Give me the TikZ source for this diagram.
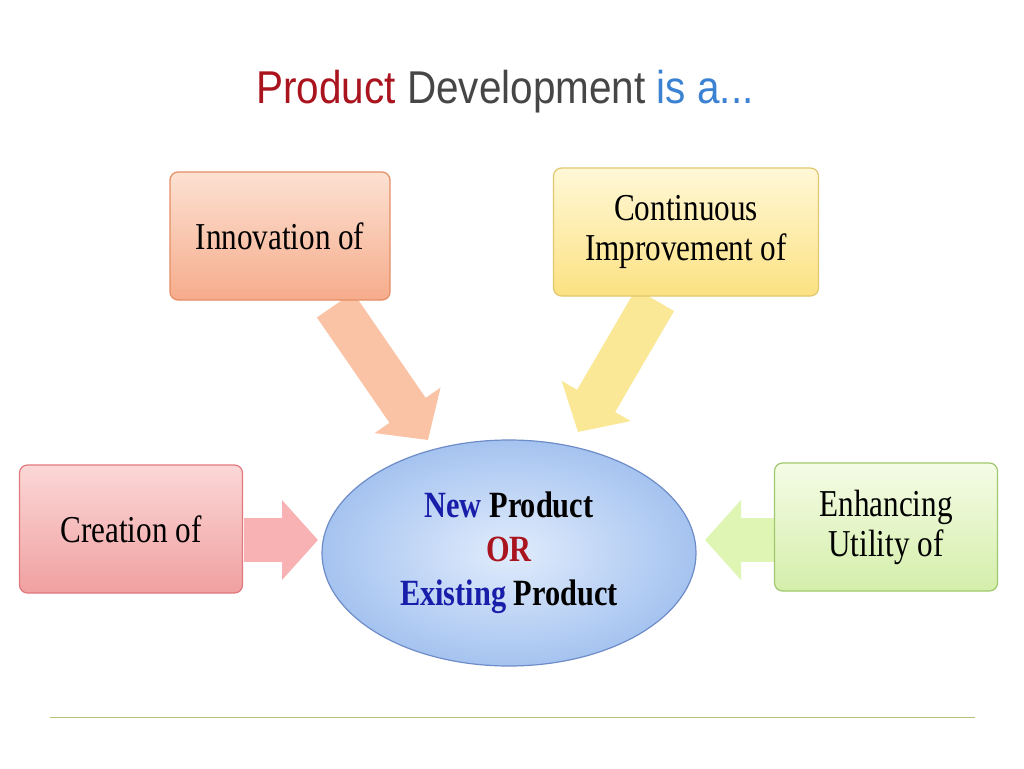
\documentclass[tikz,border=0pt]{standalone}
\usepackage{fontspec}
\setmainfont{Liberation Serif}[FakeStretch=0.82]
\newfontfamily\titlefont{Liberation Sans}[FakeStretch=0.88]
\usetikzlibrary{arrows.meta,calc,shapes.geometric}
\definecolor{tred}{RGB}{170,20,30}
\definecolor{tgray}{RGB}{70,70,70}
\definecolor{tblue}{RGB}{60,130,210}
\definecolor{eblue}{RGB}{25,30,170}
\tikzset{
  box/.style={rounded corners=8pt, minimum width=220pt, minimum height=128pt, align=center, font=\fontsize{38}{38}\selectfont, line width=1.2pt},
  barrow/.style={line width=44pt, -{Triangle[length=36pt,width=78pt]}, shorten >=0pt}
}
\begin{document}
\begin{tikzpicture}[x=1pt,y=-1pt]
\useasboundingbox (0,0) rectangle (1024,768);
\fill[white] (0,0) rectangle (1024,768);
\node[font=\titlefont\fontsize{46}{48}\selectfont] (title) at (505,92) {\textcolor{tred}{Product} \textcolor{tgray}{Development} \textcolor{tblue}{is a...}};
% arrows
\coordinate (a1s) at (335,305); \coordinate (a1e) at (428,440);
\coordinate (a2s) at (655,300); \coordinate (a2e) at (578,432);
\coordinate (a3s) at (244,540); \coordinate (a3e) at (318,540);
\coordinate (a4s) at (776,540); \coordinate (a4e) at (705,540);
\draw[barrow, color={rgb,255:red,250;green,195;blue,165}] (a1s) -- (a1e);
\draw[barrow, color={rgb,255:red,250;green,232;blue,150}] (a2s) -- (a2e);
\draw[barrow, color={rgb,255:red,248;green,178;blue,180}] (a3s) -- (a3e);
\draw[barrow, color={rgb,255:red,222;green,245;blue,180}] (a4s) -- (a4e);
\node[box, draw={rgb,255:red,230;green,140;blue,100}, top color={rgb,255:red,252;green,225;blue,210}, bottom color={rgb,255:red,246;green,172;blue,140}] (inn) at (280,236) {Innovation of};
\node[box, minimum width=265pt, draw={rgb,255:red,225;green,200;blue,110}, top color={rgb,255:red,255;green,248;blue,215}, bottom color={rgb,255:red,252;green,225;blue,130}] (cont) at (686,232) {Continuous\\[2pt]Improvement of};
\node[box, minimum width=223pt, draw={rgb,255:red,225;green,120;blue,125}, top color={rgb,255:red,252;green,215;blue,215}, bottom color={rgb,255:red,240;green,160;blue,160}] (cre) at (131,529) {Creation of};
\node[box, minimum width=223pt, draw={rgb,255:red,160;green,200;blue,110}, top color={rgb,255:red,245;green,252;blue,230}, bottom color={rgb,255:red,212;green,238;blue,170}] (enh) at (886,527) {Enhancing\\[2pt]Utility of};
\node[ellipse, minimum width=374pt, minimum height=226pt, draw={rgb,255:red,110;green,140;blue,200}, line width=1.2pt, inner color={rgb,255:red,225;green,236;blue,252}, outer color={rgb,255:red,165;green,195;blue,240}, align=center, font=\bfseries\fontsize{37}{44}\selectfont] (ell) at (509,553) {\textcolor{eblue}{New} Product\\\textcolor{tred}{OR}\\\textcolor{eblue}{Existing} Product};
\coordinate (l1) at (50,717); \coordinate (l2) at (975,717);
\draw[line width=1pt, color={rgb,255:red,185;green,190;blue,120}] (l1) -- (l2);
\end{tikzpicture}
\end{document}
